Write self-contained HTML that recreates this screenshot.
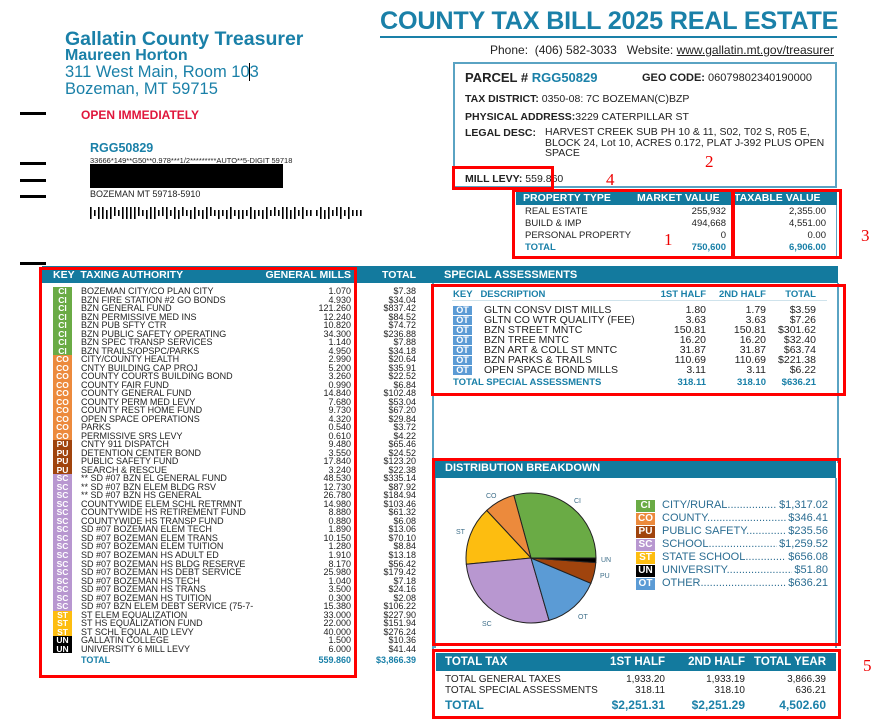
<!DOCTYPE html>
<html><head><meta charset="utf-8"><style>
*{margin:0;padding:0;box-sizing:border-box}
body{width:886px;height:721px;background:#fff;position:relative;overflow:hidden;font-family:"Liberation Sans",Arial,sans-serif;color:#222}
.a{position:absolute;white-space:nowrap}
.blue{color:#1a80a8}
.bar{position:absolute;background:#137a9e;color:#fff;font-weight:bold}
.red{position:absolute;border:3px solid #f00}
.rn{position:absolute;color:#e00;font-family:"Liberation Serif",serif;font-size:17px}
.dash{position:absolute;left:20px;width:26px;height:3px;background:#000}
.k{display:inline-block;width:19px;text-align:center;color:#fff;font-weight:bold}
.ci{background:#6aab45}.co{background:#ec8a3c}.pu{background:#a0440d}.sc{background:#b897d0}.st{background:#fdbd10}.un{background:#000}.ot{background:#5b9bd5}
#lt{position:absolute;left:53px;top:287px;width:363px;font-size:9px;line-height:8.52px;white-space:nowrap}
#lt .r{position:relative;height:8.52px;width:363px}
#lt .r span{position:absolute;top:0}
#lt .n{left:28px}
#lt .m{right:65px;text-align:right}
#lt .t{right:0;text-align:right}
#lt .k{font-size:8.5px;height:8.52px;line-height:8.52px;position:absolute;left:0;top:0}
.sa{position:absolute;left:453px;font-size:10.5px;line-height:10px;width:370px;white-space:nowrap}
.sa span{position:absolute;top:0}
.pt{position:absolute;font-size:9.5px;line-height:12px;white-space:nowrap}
.lg{position:absolute;left:636px;font-size:11px;line-height:12px;color:#2b6d92;width:192px;height:12px;white-space:nowrap}
.lg .k{font-size:10px;height:12px;line-height:12px}
.lg .v{position:absolute;right:0;top:0;background:#fff;padding-left:2px}
.lg .d{position:absolute;left:26px;right:0;top:0;overflow:hidden;white-space:nowrap}
</style></head><body>

<div class="a blue" style="left:65px;top:28px;font-size:19.5px;font-weight:bold">Gallatin County Treasurer</div>
<div class="a blue" style="left:65px;top:47px;font-size:16px;font-weight:bold">Maureen Horton</div>
<div class="a blue" style="left:65px;top:63px;font-size:16.5px">311 West Main, Room 10<span style="border-left:1px solid #000;margin-left:-1px"></span>3</div>
<div class="a blue" style="left:65px;top:80px;font-size:16.5px">Bozeman, MT 59715</div>
<div class="dash" style="top:112px"></div>
<div class="dash" style="top:162px"></div>
<div class="dash" style="top:179px"></div>
<div class="dash" style="top:195px"></div>
<div class="dash" style="top:262px"></div>
<div class="a" style="left:81px;top:108px;font-size:12px;font-weight:bold;color:#e0163c">OPEN IMMEDIATELY</div>
<div class="a blue" style="left:90px;top:141px;font-size:12.5px;font-weight:bold">RGG50829</div>
<div class="a" style="left:90px;top:156px;font-size:7.5px">33666*149**G50**0.978***1/2*********AUTO**5-DIGIT 59718</div>
<div class="a" style="left:90px;top:164px;width:193px;height:24px;background:#000"></div>
<div class="a" style="left:90px;top:189px;font-size:9px">BOZEMAN MT 59718-5910</div>
<svg class="a" style="left:90px;top:205px" width="275" height="16">
<g fill="#000">
<rect x="0" y="2" width="1.6" height="12"/><rect x="4" y="5" width="1.6" height="6"/><rect x="8" y="2" width="1.6" height="12"/><rect x="12" y="2" width="1.6" height="12"/><rect x="16" y="5" width="1.6" height="9"/><rect x="20" y="2" width="1.6" height="12"/><rect x="24" y="2" width="1.6" height="9"/><rect x="28" y="5" width="1.6" height="6"/><rect x="32" y="2" width="1.6" height="12"/><rect x="36" y="2" width="1.6" height="12"/><rect x="40" y="2" width="1.6" height="12"/><rect x="44" y="2" width="1.6" height="12"/><rect x="48" y="2" width="1.6" height="9"/><rect x="52" y="5" width="1.6" height="6"/><rect x="56" y="5" width="1.6" height="9"/><rect x="60" y="2" width="1.6" height="12"/><rect x="64" y="2" width="1.6" height="12"/><rect x="68" y="5" width="1.6" height="6"/><rect x="72" y="2" width="1.6" height="9"/><rect x="76" y="2" width="1.6" height="12"/><rect x="80" y="5" width="1.6" height="6"/><rect x="84" y="2" width="1.6" height="12"/><rect x="88" y="5" width="1.6" height="9"/><rect x="92" y="2" width="1.6" height="9"/><rect x="96" y="5" width="1.6" height="6"/><rect x="100" y="5" width="1.6" height="9"/><rect x="104" y="2" width="1.6" height="12"/><rect x="108" y="5" width="1.6" height="6"/><rect x="112" y="5" width="1.6" height="9"/><rect x="116" y="2" width="1.6" height="12"/><rect x="120" y="2" width="1.6" height="9"/><rect x="124" y="5" width="1.6" height="6"/><rect x="128" y="5" width="1.6" height="9"/><rect x="132" y="5" width="1.6" height="6"/><rect x="136" y="5" width="1.6" height="9"/><rect x="140" y="2" width="1.6" height="12"/><rect x="144" y="5" width="1.6" height="6"/><rect x="148" y="5" width="1.6" height="9"/><rect x="152" y="5" width="1.6" height="9"/><rect x="156" y="5" width="1.6" height="6"/><rect x="160" y="2" width="1.6" height="12"/><rect x="164" y="5" width="1.6" height="9"/><rect x="168" y="5" width="1.6" height="6"/><rect x="172" y="5" width="1.6" height="9"/><rect x="176" y="2" width="1.6" height="12"/><rect x="180" y="5" width="1.6" height="6"/><rect x="184" y="2" width="1.6" height="9"/><rect x="188" y="5" width="1.6" height="6"/><rect x="192" y="2" width="1.6" height="12"/><rect x="196" y="2" width="1.6" height="12"/><rect x="200" y="5" width="1.6" height="9"/><rect x="204" y="2" width="1.6" height="12"/><rect x="208" y="5" width="1.6" height="6"/><rect x="212" y="2" width="1.6" height="12"/><rect x="216" y="5" width="1.6" height="6"/><rect x="220" y="5" width="1.6" height="6"/><rect x="226" y="5" width="1.6" height="6"/><rect x="230" y="2" width="1.6" height="12"/><rect x="234" y="5" width="1.6" height="9"/><rect x="238" y="2" width="1.6" height="12"/><rect x="242" y="5" width="1.6" height="6"/><rect x="246" y="2" width="1.6" height="9"/><rect x="250" y="2" width="1.6" height="12"/><rect x="254" y="5" width="1.6" height="6"/><rect x="258" y="2" width="1.6" height="12"/><rect x="262" y="5" width="1.6" height="6"/><rect x="266" y="5" width="1.6" height="6"/><rect x="270" y="5" width="1.6" height="6"/>
</g></svg>

<div class="a blue" style="left:380px;top:7px;font-size:25.2px;font-weight:bold;letter-spacing:-0.2px">COUNTY TAX BILL 2025 REAL ESTATE</div>
<div class="a" style="left:380px;top:36px;width:457px;height:2px;background:#1a80a8"></div>
<div class="a" style="left:490px;top:43px;font-size:12px;color:#222">Phone:&nbsp; (406) 582-3033&nbsp;&nbsp; Website: <u>www.gallatin.mt.gov/treasurer</u></div>

<div class="a" style="left:453px;top:62px;width:384px;height:126px;border:2px solid #5aa3c3"></div>
<div class="a" style="left:465px;top:70px;font-size:13px;font-weight:bold">PARCEL # <span class="blue">RGG50829</span></div>
<div class="a" style="left:642px;top:72px;font-size:11px"><b>GEO CODE:</b> 06079802340190000</div>
<div class="a" style="left:465px;top:93px;font-size:10.5px"><b>TAX DISTRICT:</b> 0350-08: 7C BOZEMAN(C)BZP</div>
<div class="a" style="left:465px;top:111px;font-size:10.5px"><b>PHYSICAL ADDRESS:</b>3229 CATERPILLAR ST</div>
<div class="a" style="left:465px;top:127px;font-size:10.5px;font-weight:bold">LEGAL DESC:</div>
<div class="a" style="left:545px;top:127px;font-size:10.5px;line-height:10.5px;white-space:normal;width:285px">HARVEST CREEK SUB PH 10 &amp; 11, S02, T02 S, R05 E, BLOCK 24, Lot 10, ACRES 0.172, PLAT J-392 PLUS OPEN SPACE</div>
<div class="a" style="left:465px;top:173px;font-size:10.5px"><b>MILL LEVY:</b> 559.860</div>

<div class="bar" style="left:516px;top:192px;width:321px;height:13px"></div>
<div class="a" style="left:523px;top:192px;font-size:10.5px;line-height:13px;color:#fff;font-weight:bold">PROPERTY TYPE</div>
<div class="a" style="left:637px;top:192px;font-size:10.5px;line-height:13px;color:#fff;font-weight:bold">MARKET VALUE</div>
<div class="a" style="left:734px;top:192px;font-size:10.5px;line-height:13px;color:#fff;font-weight:bold">TAXABLE VALUE</div>
<div class="a" style="left:836px;top:205px;width:1px;height:52px;background:#5aa3c3"></div>
<div class="pt" style="left:525px;top:206px">REAL ESTATE<br>BUILD &amp; IMP<br>PERSONAL PROPERTY<br><b class="blue">TOTAL</b></div>
<div class="pt" style="left:630px;top:206px;width:96px;text-align:right">255,932<br>494,668<br>0<br><b class="blue">750,600</b></div>
<div class="pt" style="left:730px;top:206px;width:96px;text-align:right">2,355.00<br>4,551.00<br>0.00<br><b class="blue">6,906.00</b></div>

<div class="bar" style="left:42px;top:266px;width:796px;height:17px"></div>
<div class="a" style="left:53px;top:269px;font-size:10.5px;color:#fff;font-weight:bold">KEY&nbsp; TAXING AUTHORITY</div>
<div class="a" style="left:250px;top:269px;font-size:10.5px;color:#fff;font-weight:bold;width:101px;text-align:right">GENERAL MILLS</div>
<div class="a" style="left:370px;top:269px;font-size:10.5px;color:#fff;font-weight:bold;width:46px;text-align:right">TOTAL</div>
<div class="a" style="left:444px;top:269px;font-size:11px;color:#fff;font-weight:bold">SPECIAL ASSESSMENTS</div>
<div class="a" style="left:432px;top:283px;width:1.5px;height:370px;background:#5aa3c3"></div>
<div class="a" style="left:837px;top:283px;width:1.5px;height:180px;background:#5aa3c3"></div>

<div id="lt">
<div class="r"><b class="k ci">CI</b><span class="n">BOZEMAN CITY/CO PLAN CITY</span><span class="m">1.070</span><span class="t">$7.38</span></div>
<div class="r"><b class="k ci">CI</b><span class="n">BZN FIRE STATION #2 GO BONDS</span><span class="m">4.930</span><span class="t">$34.04</span></div>
<div class="r"><b class="k ci">CI</b><span class="n">BZN GENERAL FUND</span><span class="m">121.260</span><span class="t">$837.42</span></div>
<div class="r"><b class="k ci">CI</b><span class="n">BZN PERMISSIVE MED INS</span><span class="m">12.240</span><span class="t">$84.52</span></div>
<div class="r"><b class="k ci">CI</b><span class="n">BZN PUB SFTY CTR</span><span class="m">10.820</span><span class="t">$74.72</span></div>
<div class="r"><b class="k ci">CI</b><span class="n">BZN PUBLIC SAFETY OPERATING</span><span class="m">34.300</span><span class="t">$236.88</span></div>
<div class="r"><b class="k ci">CI</b><span class="n">BZN SPEC TRANSP SERVICES</span><span class="m">1.140</span><span class="t">$7.88</span></div>
<div class="r"><b class="k ci">CI</b><span class="n">BZN TRAILS/OPSPC/PARKS</span><span class="m">4.950</span><span class="t">$34.18</span></div>
<div class="r"><b class="k co">CO</b><span class="n">CITY/COUNTY HEALTH</span><span class="m">2.990</span><span class="t">$20.64</span></div>
<div class="r"><b class="k co">CO</b><span class="n">CNTY BUILDING CAP PROJ</span><span class="m">5.200</span><span class="t">$35.91</span></div>
<div class="r"><b class="k co">CO</b><span class="n">COUNTY COURTS BUILDING BOND</span><span class="m">3.260</span><span class="t">$22.52</span></div>
<div class="r"><b class="k co">CO</b><span class="n">COUNTY FAIR FUND</span><span class="m">0.990</span><span class="t">$6.84</span></div>
<div class="r"><b class="k co">CO</b><span class="n">COUNTY GENERAL FUND</span><span class="m">14.840</span><span class="t">$102.48</span></div>
<div class="r"><b class="k co">CO</b><span class="n">COUNTY PERM MED LEVY</span><span class="m">7.680</span><span class="t">$53.04</span></div>
<div class="r"><b class="k co">CO</b><span class="n">COUNTY REST HOME FUND</span><span class="m">9.730</span><span class="t">$67.20</span></div>
<div class="r"><b class="k co">CO</b><span class="n">OPEN SPACE OPERATIONS</span><span class="m">4.320</span><span class="t">$29.84</span></div>
<div class="r"><b class="k co">CO</b><span class="n">PARKS</span><span class="m">0.540</span><span class="t">$3.72</span></div>
<div class="r"><b class="k co">CO</b><span class="n">PERMISSIVE SRS LEVY</span><span class="m">0.610</span><span class="t">$4.22</span></div>
<div class="r"><b class="k pu">PU</b><span class="n">CNTY 911 DISPATCH</span><span class="m">9.480</span><span class="t">$65.46</span></div>
<div class="r"><b class="k pu">PU</b><span class="n">DETENTION CENTER BOND</span><span class="m">3.550</span><span class="t">$24.52</span></div>
<div class="r"><b class="k pu">PU</b><span class="n">PUBLIC SAFETY FUND</span><span class="m">17.840</span><span class="t">$123.20</span></div>
<div class="r"><b class="k pu">PU</b><span class="n">SEARCH &amp; RESCUE</span><span class="m">3.240</span><span class="t">$22.38</span></div>
<div class="r"><b class="k sc">SC</b><span class="n">** SD #07 BZN EL GENERAL FUND</span><span class="m">48.530</span><span class="t">$335.14</span></div>
<div class="r"><b class="k sc">SC</b><span class="n">** SD #07 BZN ELEM BLDG RSV</span><span class="m">12.730</span><span class="t">$87.92</span></div>
<div class="r"><b class="k sc">SC</b><span class="n">** SD #07 BZN HS GENERAL</span><span class="m">26.780</span><span class="t">$184.94</span></div>
<div class="r"><b class="k sc">SC</b><span class="n">COUNTYWIDE ELEM SCHL RETRMNT</span><span class="m">14.980</span><span class="t">$103.46</span></div>
<div class="r"><b class="k sc">SC</b><span class="n">COUNTYWIDE HS RETIREMENT FUND</span><span class="m">8.880</span><span class="t">$61.32</span></div>
<div class="r"><b class="k sc">SC</b><span class="n">COUNTYWIDE HS TRANSP FUND</span><span class="m">0.880</span><span class="t">$6.08</span></div>
<div class="r"><b class="k sc">SC</b><span class="n">SD #07 BOZEMAN ELEM TECH</span><span class="m">1.890</span><span class="t">$13.06</span></div>
<div class="r"><b class="k sc">SC</b><span class="n">SD #07 BOZEMAN ELEM TRANS</span><span class="m">10.150</span><span class="t">$70.10</span></div>
<div class="r"><b class="k sc">SC</b><span class="n">SD #07 BOZEMAN ELEM TUITION</span><span class="m">1.280</span><span class="t">$8.84</span></div>
<div class="r"><b class="k sc">SC</b><span class="n">SD #07 BOZEMAN HS ADULT ED</span><span class="m">1.910</span><span class="t">$13.18</span></div>
<div class="r"><b class="k sc">SC</b><span class="n">SD #07 BOZEMAN HS BLDG RESERVE</span><span class="m">8.170</span><span class="t">$56.42</span></div>
<div class="r"><b class="k sc">SC</b><span class="n">SD #07 BOZEMAN HS DEBT SERVICE</span><span class="m">25.980</span><span class="t">$179.42</span></div>
<div class="r"><b class="k sc">SC</b><span class="n">SD #07 BOZEMAN HS TECH</span><span class="m">1.040</span><span class="t">$7.18</span></div>
<div class="r"><b class="k sc">SC</b><span class="n">SD #07 BOZEMAN HS TRANS</span><span class="m">3.500</span><span class="t">$24.16</span></div>
<div class="r"><b class="k sc">SC</b><span class="n">SD #07 BOZEMAN HS TUITION</span><span class="m">0.300</span><span class="t">$2.08</span></div>
<div class="r"><b class="k sc">SC</b><span class="n">SD #07 BZN ELEM DEBT SERVICE (75-7-</span><span class="m">15.380</span><span class="t">$106.22</span></div>
<div class="r"><b class="k st">ST</b><span class="n">ST ELEM EQUALIZATION</span><span class="m">33.000</span><span class="t">$227.90</span></div>
<div class="r"><b class="k st">ST</b><span class="n">ST HS EQUALIZATION FUND</span><span class="m">22.000</span><span class="t">$151.94</span></div>
<div class="r"><b class="k st">ST</b><span class="n">ST SCHL EQUAL AID LEVY</span><span class="m">40.000</span><span class="t">$276.24</span></div>
<div class="r"><b class="k un">UN</b><span class="n">GALLATIN COLLEGE</span><span class="m">1.500</span><span class="t">$10.36</span></div>
<div class="r"><b class="k un">UN</b><span class="n">UNIVERSITY 6 MILL LEVY</span><span class="m">6.000</span><span class="t">$41.44</span></div>
<div class="r" style="margin-top:3px;color:#1a80a8;font-weight:bold"><span class="n">TOTAL</span><span class="m">559.860</span><span class="t">$3,866.39</span></div>
</div>

<div class="a blue" style="left:453px;top:289px;font-size:9.5px;font-weight:bold">KEY&nbsp;&nbsp; DESCRIPTION</div>
<div class="a blue" style="left:630px;top:289px;font-size:9.5px;font-weight:bold;width:76px;text-align:right">1ST HALF</div>
<div class="a blue" style="left:690px;top:289px;font-size:9.5px;font-weight:bold;width:76px;text-align:right">2ND HALF</div>
<div class="a blue" style="left:740px;top:289px;font-size:9.5px;font-weight:bold;width:76px;text-align:right">TOTAL</div>
<div class="a" style="left:452px;top:300px;width:375px;height:1px;background:#cfe3ec"></div>
<div class="sa" style="top:305px"><b class="k ot" style="font-size:9px;height:9px;line-height:9px">OT</b><span style="left:31px">GLTN CONSV DIST MILLS</span><span style="right:117px">1.80</span><span style="right:57px">1.79</span><span style="right:7px">$3.59</span></div>
<div class="sa" style="top:315px"><b class="k ot" style="font-size:9px;height:9px;line-height:9px">OT</b><span style="left:31px">GLTN CO WTR QUALITY (FEE)</span><span style="right:117px">3.63</span><span style="right:57px">3.63</span><span style="right:7px">$7.26</span></div>
<div class="sa" style="top:325px"><b class="k ot" style="font-size:9px;height:9px;line-height:9px">OT</b><span style="left:31px">BZN STREET MNTC</span><span style="right:117px">150.81</span><span style="right:57px">150.81</span><span style="right:7px">$301.62</span></div>
<div class="sa" style="top:335px"><b class="k ot" style="font-size:9px;height:9px;line-height:9px">OT</b><span style="left:31px">BZN TREE MNTC</span><span style="right:117px">16.20</span><span style="right:57px">16.20</span><span style="right:7px">$32.40</span></div>
<div class="sa" style="top:345px"><b class="k ot" style="font-size:9px;height:9px;line-height:9px">OT</b><span style="left:31px">BZN ART &amp; COLL ST MNTC</span><span style="right:117px">31.87</span><span style="right:57px">31.87</span><span style="right:7px">$63.74</span></div>
<div class="sa" style="top:355px"><b class="k ot" style="font-size:9px;height:9px;line-height:9px">OT</b><span style="left:31px">BZN PARKS &amp; TRAILS</span><span style="right:117px">110.69</span><span style="right:57px">110.69</span><span style="right:7px">$221.38</span></div>
<div class="sa" style="top:365px"><b class="k ot" style="font-size:9px;height:9px;line-height:9px">OT</b><span style="left:31px">OPEN SPACE BOND MILLS</span><span style="right:117px">3.11</span><span style="right:57px">3.11</span><span style="right:7px">$6.22</span></div>
<div class="sa blue" style="top:378px;font-weight:bold;font-size:9.5px"><span style="left:0">TOTAL SPECIAL ASSESSMENTS</span><span style="right:117px">318.11</span><span style="right:57px">318.10</span><span style="right:7px">$636.21</span></div>

<div class="bar" style="left:434px;top:459px;width:402px;height:19px"></div>
<div class="a" style="left:445px;top:462px;font-size:11px;color:#fff;font-weight:bold">DISTRIBUTION BREAKDOWN</div>
<div class="a" style="left:434px;top:478px;width:1.5px;height:170px;background:#5aa3c3"></div>
<div class="a" style="left:835px;top:478px;width:1.5px;height:170px;background:#5aa3c3"></div>
<svg class="a" style="left:0;top:0" width="886" height="721">
<g stroke="#222" stroke-width="1">
<path d="M531 558 L596 558 A65 65 0 0 0 513.8 495.3 Z" fill="#6aab45"/>
<path d="M531 558 L513.8 495.3 A65 65 0 0 0 486.7 510.5 Z" fill="#ec8a3c"/>
<path d="M531 558 L486.7 510.5 A65 65 0 0 0 466.3 564.2 Z" fill="#fdbd10"/>
<path d="M531 558 L466.3 564.2 A65 65 0 0 0 549.1 620.4 Z" fill="#b897d0"/>
<path d="M531 558 L549.1 620.4 A65 65 0 0 0 590.9 583.3 Z" fill="#5b9bd5"/>
<path d="M531 558 L590.9 583.3 A65 65 0 0 0 595.8 562.6 Z" fill="#a0440d"/>
<path d="M531 558 L595.8 562.6 A65 65 0 0 0 596 558 Z" fill="#000"/>
</g>
<g font-family="Liberation Sans,Arial,sans-serif" font-size="7" fill="#3f6f8a">
<text x="486" y="498">CO</text><text x="574" y="503">CI</text><text x="456" y="534">ST</text>
<text x="601" y="562">UN</text><text x="600" y="578">PU</text><text x="578" y="619">OT</text><text x="482" y="626">SC</text>
</g></svg>
<div class="lg" style="top:499px"><b class="k ci">CI</b><span class="d">CITY/RURAL..................................................</span><span class="v">$1,317.02</span></div>
<div class="lg" style="top:512px"><b class="k co">CO</b><span class="d">COUNTY..................................................</span><span class="v">$346.41</span></div>
<div class="lg" style="top:525px"><b class="k pu">PU</b><span class="d">PUBLIC SAFETY..................................................</span><span class="v">$235.56</span></div>
<div class="lg" style="top:538px"><b class="k sc">SC</b><span class="d">SCHOOL..................................................</span><span class="v">$1,259.52</span></div>
<div class="lg" style="top:551px"><b class="k st">ST</b><span class="d">STATE SCHOOL..................................................</span><span class="v">$656.08</span></div>
<div class="lg" style="top:564px"><b class="k un">UN</b><span class="d">UNIVERSITY..................................................</span><span class="v">$51.80</span></div>
<div class="lg" style="top:577px"><b class="k ot">OT</b><span class="d">OTHER..................................................</span><span class="v">$636.21</span></div>

<div class="bar" style="left:436px;top:653px;width:400px;height:18px"></div>
<div class="a" style="left:445px;top:656px;font-size:11.5px;color:#fff;font-weight:bold">TOTAL TAX</div>
<div class="a" style="left:585px;top:656px;font-size:11.5px;color:#fff;font-weight:bold;width:80px;text-align:right">1ST HALF</div>
<div class="a" style="left:665px;top:656px;font-size:11.5px;color:#fff;font-weight:bold;width:80px;text-align:right">2ND HALF</div>
<div class="a" style="left:746px;top:656px;font-size:11.5px;color:#fff;font-weight:bold;width:80px;text-align:right">TOTAL YEAR</div>
<div class="pt" style="left:445px;top:675px;font-size:10px;line-height:10.5px">TOTAL GENERAL TAXES<br>TOTAL SPECIAL ASSESSMENTS</div>
<div class="pt" style="left:585px;top:675px;font-size:10px;line-height:10.5px;width:80px;text-align:right">1,933.20<br>318.11</div>
<div class="pt" style="left:665px;top:675px;font-size:10px;line-height:10.5px;width:80px;text-align:right">1,933.19<br>318.10</div>
<div class="pt" style="left:746px;top:675px;font-size:10px;line-height:10.5px;width:80px;text-align:right">3,866.39<br>636.21</div>
<div class="a blue" style="left:445px;top:698px;font-size:12px;font-weight:bold">TOTAL</div>
<div class="a blue" style="left:565px;top:698px;font-size:12px;font-weight:bold;width:100px;text-align:right">$2,251.31</div>
<div class="a blue" style="left:645px;top:698px;font-size:12px;font-weight:bold;width:100px;text-align:right">$2,251.29</div>
<div class="a blue" style="left:726px;top:698px;font-size:12px;font-weight:bold;width:100px;text-align:right">4,502.60</div>

<div class="red" style="left:452px;top:166px;width:102px;height:24px"></div>
<div class="red" style="left:512px;top:189px;width:222px;height:70px"></div>
<div class="red" style="left:732px;top:189px;width:110px;height:70px"></div>
<div class="red" style="left:39px;top:267px;width:318px;height:411px"></div>
<div class="red" style="left:431px;top:284px;width:415px;height:112px"></div>
<div class="red" style="left:432px;top:458px;width:409px;height:188px"></div>
<div class="red" style="left:432px;top:649px;width:409px;height:70px"></div>
<div class="rn" style="left:664px;top:230px">1</div>
<div class="rn" style="left:705px;top:152px">2</div>
<div class="rn" style="left:861px;top:226px">3</div>
<div class="rn" style="left:606px;top:170px">4</div>
<div class="rn" style="left:863px;top:656px">5</div>
</body></html>
